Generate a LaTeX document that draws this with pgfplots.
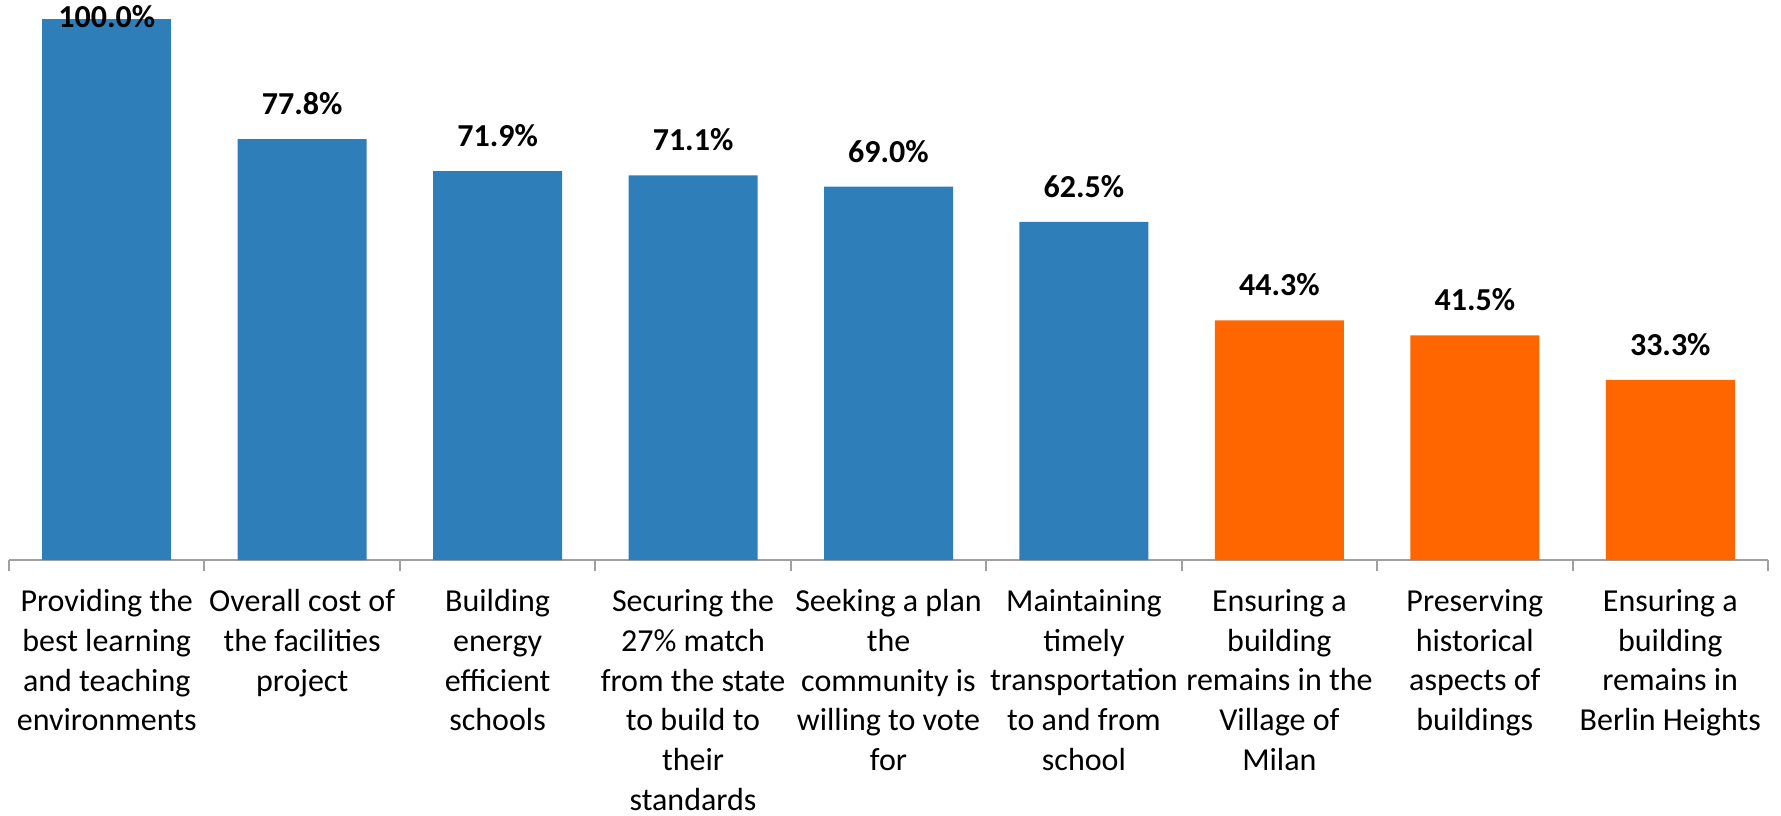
\documentclass[border=0pt]{standalone}
\usepackage{fontspec}
\setmainfont{Carlito}
\usepackage{pgfplots}
\pgfplotsset{compat=1.18}
\definecolor{barblue}{HTML}{2E7EBA}
\definecolor{barorange}{HTML}{FF6600}
\definecolor{axisgray}{HTML}{A0A0A0}
\begin{document}
\begin{tikzpicture}
\begin{axis}[
  at={(0,0)}, anchor=south west,
  scale only axis, width=879.5pt, height=270.5pt,
  xmin=-0.5, xmax=8.5, ymin=0, ymax=100,
  axis y line=none, axis x line*=bottom,
  x axis line style={axisgray, line width=1pt},
  xtick={0,...,8}, major tick length=0pt,
  minor xtick={-0.5,0.5,...,8.5}, minor tick length=5.5pt,
  tick align=outside,
  minor tick style={axisgray, line width=1pt},
  xticklabels={{Providing the\\best learning\\and teaching\\environments},
    {Overall cost of\\the facilities\\project},
    {Building\\energy\\efficient\\schools},
    {Securing the\\27\% match\\from the state\\to build to\\their\\standards},
    {Seeking a plan\\the\\community is\\willing to vote\\for},
    {Maintaining\\timely\\transportation\\to and from\\school},
    {Ensuring a\\building\\remains in the\\Village of\\Milan},
    {Preserving\\historical\\aspects of\\buildings},
    {Ensuring a\\building\\remains in\\Berlin Heights}},
  xticklabel style={align=center, font=\fontsize{16}{19.85}\selectfont, anchor=north, inner sep=0pt, yshift=-14.5pt},
  ybar, bar width=64.5pt, bar shift=0pt,
  clip=false,
  /pgf/number format/assume math mode=true,
  nodes near coords={\pgfmathprintnumber[fixed,fixed zerofill,precision=1]{\pgfplotspointmeta}\%},
  every node near coord/.append style={font=\fontsize{16}{19}\selectfont\bfseries, inner sep=0pt, anchor=south, yshift=12pt},
]
\addplot[fill=barblue, draw=none, every node near coord/.append style={yshift=-16.5pt}] coordinates {(0,100.0)};
\addplot[fill=barblue, draw=none] coordinates {(1,77.8) (2,71.9) (3,71.1) (4,69.0) (5,62.5)};
\addplot[fill=barorange, draw=none] coordinates {(6,44.3) (7,41.5) (8,33.3)};
\end{axis}
\pgfresetboundingbox
\path (-4.5pt,-127.5pt) rectangle (886pt,280pt);
\end{tikzpicture}
\end{document}
